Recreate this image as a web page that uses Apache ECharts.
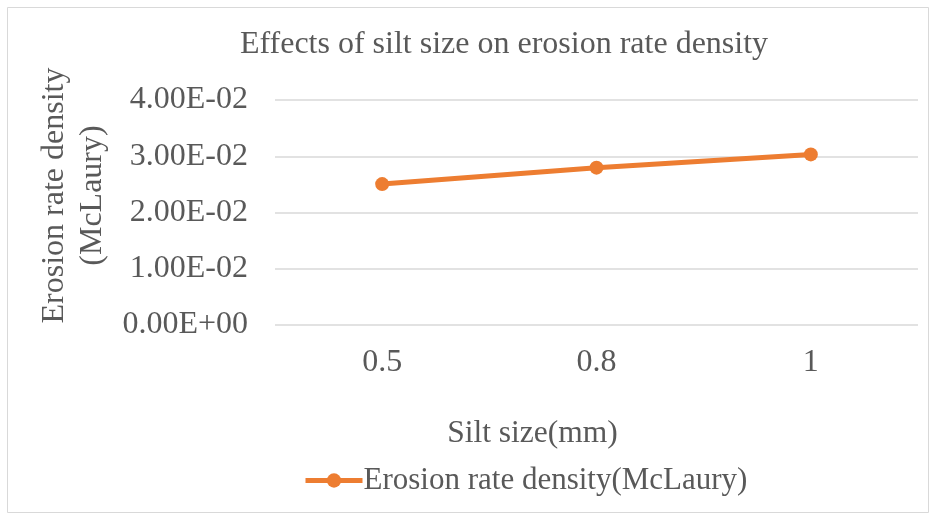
<!DOCTYPE html>
<html><head><meta charset="utf-8">
<script src="https://cdn.jsdelivr.net/npm/echarts@6/dist/echarts.min.js"></script>
<style>html,body{margin:0;padding:0;background:#fff}#c{width:937px;height:520px}</style>
</head><body><div id="c"></div>
<script>
const categories = ['0.5', '0.8', '1'];
const erosionRate = [0.02505, 0.02797, 0.03033];
const yTicks = ['0.00E+00', '1.00E-02', '2.00E-02', '3.00E-02', '4.00E-02'];

const font = 'Liberation Serif, Times New Roman, serif';
const txt = '#595959';
const chart = echarts.init(document.getElementById('c'));
chart.setOption({
  backgroundColor: '#fff',
  animation: false,
  graphic: [{type:'rect', shape:{x:7.5,y:7.5,width:921,height:505}, style:{fill:'none', stroke:'#d9d9d9', lineWidth:1}}],
  title: {text:'Effects of silt size on erosion rate density', left:499, top:24, textAlign:'center',
    textStyle:{fontFamily:font, fontWeight:'normal', fontSize:32, color:txt}},
  grid: {left:275, right:19, top:100, bottom:195, containLabel:false},
  legend: {bottom:24, left:303, padding:0, itemWidth:57, itemHeight:18, itemGap:0,
    lineStyle:{width:5},
    textStyle:{fontFamily:font, fontSize:31, color:txt, padding:[0,0,0,-4]},
    data:['Erosion rate density(McLaury)']},
  xAxis: {type:'category', data:categories, name:'Silt size(mm)', nameLocation:'middle', nameGap:93,
    nameTextStyle:{fontFamily:font, fontSize:31.5, color:txt, padding:[0,128,0,0]},
    axisLine:{show:false}, axisTick:{show:false},
    axisLabel:{fontFamily:font, fontSize:32, color:txt, margin:22}},
  yAxis: {type:'value', min:0, max:0.04, interval:0.01,
    name:'Erosion rate density\n(McLaury)', nameLocation:'middle', nameGap:163, nameRotate:90,
    nameTextStyle:{fontFamily:font, fontSize:32, color:txt, lineHeight:38, padding:[0,0,0,34]},
    axisLine:{show:false}, axisTick:{show:false},
    splitLine:{lineStyle:{color:'#d9d9d9', width:1.5}},
    axisLabel:{fontFamily:font, fontSize:32, color:txt, margin:27,
      formatter:(v)=>yTicks[Math.round(v/0.01)]}},
  series: [{name:'Erosion rate density(McLaury)', type:'line', data:erosionRate,
    symbol:'circle', symbolSize:14, lineStyle:{color:'#ed7d31', width:5},
    itemStyle:{color:'#ed7d31'}}]
});
</script></body></html>
